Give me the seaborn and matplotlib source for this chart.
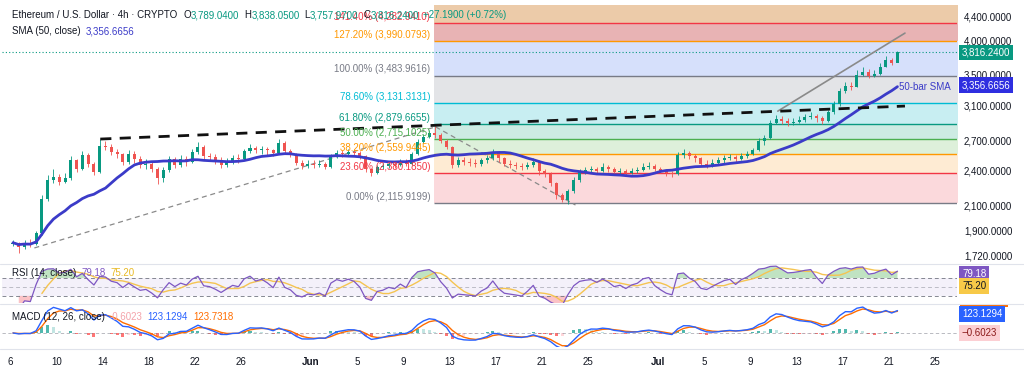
import numpy as np
import pandas as pd
import seaborn as sns
import matplotlib.pyplot as plt

# ETH/USD, resampled to 12h bars (day 0 = May 6)
closes = [1812, 1785, 1810, 1800, 1880, 2150, 2320, 2340, 2300, 2330,
          2500, 2420, 2550, 2470, 2390, 2650, 2640, 2580, 2560, 2490,
          2560, 2510, 2460, 2470, 2420, 2330, 2410, 2510, 2460, 2510,
          2490, 2580, 2640, 2540, 2530, 2500, 2460, 2490, 2520, 2510,
          2590, 2630, 2600, 2620, 2600, 2570, 2680, 2590, 2560, 2480,
          2450, 2470, 2460, 2470, 2440, 2530, 2570, 2560, 2580, 2570,
          2540, 2420, 2380, 2440, 2450, 2470, 2460, 2490, 2470, 2560,
          2690, 2740, 2780, 2760, 2700, 2640, 2460, 2500, 2490, 2480,
          2470, 2500, 2520, 2580, 2520, 2470, 2460, 2450, 2440, 2460,
          2490, 2400, 2370, 2290, 2180, 2140, 2220, 2320, 2390, 2410,
          2420, 2400, 2440, 2420, 2390, 2400, 2380, 2400, 2410, 2440,
          2450, 2420, 2400, 2380, 2370, 2550, 2570, 2540, 2520, 2470,
          2460, 2480, 2500, 2520, 2530, 2510, 2540, 2560, 2600, 2700,
          2730, 2890, 2940, 2920, 2900, 2910, 2930, 2960, 2980, 2950,
          2920, 3020, 3120, 3280, 3350, 3340, 3500, 3540, 3480, 3510,
          3610, 3710, 3660, 3816.24]
highs = [1830, 1815, 1828, 1835, 1900, 2180, 2360, 2420, 2370, 2380,
         2540, 2510, 2590, 2570, 2490, 2720, 2700, 2670, 2620, 2570,
         2600, 2590, 2540, 2510, 2490, 2440, 2440, 2540, 2530, 2550,
         2540, 2620, 2690, 2660, 2570, 2560, 2530, 2520, 2550, 2560,
         2620, 2670, 2650, 2650, 2640, 2620, 2720, 2700, 2610, 2570,
         2500, 2500, 2500, 2500, 2490, 2560, 2600, 2600, 2610, 2610,
         2590, 2550, 2430, 2460, 2480, 2490, 2490, 2510, 2510, 2580,
         2720, 2770, 2820, 2860, 2780, 2720, 2650, 2530, 2530, 2520,
         2510, 2520, 2550, 2620, 2590, 2530, 2500, 2490, 2480, 2490,
         2520, 2500, 2420, 2390, 2300, 2200, 2240, 2340, 2420, 2440,
         2450, 2440, 2480, 2460, 2440, 2430, 2420, 2430, 2440, 2480,
         2490, 2470, 2440, 2420, 2400, 2580, 2610, 2590, 2560, 2530,
         2500, 2510, 2530, 2550, 2560, 2550, 2570, 2590, 2630, 2730,
         2760, 2930, 2990, 2980, 2950, 2950, 2970, 3000, 3020, 3000,
         2970, 3050, 3150, 3320, 3400, 3400, 3560, 3610, 3580, 3560,
         3660, 3760, 3740, 3838]
lows = [1790, 1742, 1770, 1785, 1795, 1870, 2130, 2290, 2270, 2290,
        2320, 2390, 2410, 2440, 2360, 2380, 2600, 2550, 2520, 2460,
        2470, 2480, 2430, 2420, 2390, 2280, 2300, 2390, 2430, 2440,
        2450, 2480, 2560, 2510, 2500, 2470, 2430, 2440, 2470, 2480,
        2500, 2570, 2570, 2560, 2550, 2540, 2560, 2560, 2530, 2460,
        2420, 2430, 2430, 2440, 2420, 2430, 2520, 2530, 2540, 2540,
        2510, 2390, 2350, 2370, 2420, 2430, 2430, 2450, 2450, 2460,
        2550, 2680, 2730, 2730, 2680, 2610, 2430, 2440, 2460, 2450,
        2440, 2450, 2480, 2500, 2490, 2450, 2430, 2420, 2410, 2420,
        2440, 2360, 2340, 2260, 2150, 2125, 2112, 2200, 2300, 2370,
        2380, 2370, 2390, 2390, 2360, 2370, 2360, 2370, 2380, 2400,
        2420, 2400, 2380, 2350, 2340, 2360, 2520, 2510, 2490, 2450,
        2430, 2440, 2460, 2480, 2500, 2490, 2500, 2520, 2550, 2590,
        2660, 2720, 2880, 2880, 2860, 2870, 2890, 2910, 2940, 2910,
        2880, 2910, 3000, 3100, 3260, 3300, 3330, 3480, 3460, 3470,
        3500, 3600, 3640, 3680]
first_open = 1805

price_ticks = [1720, 1900, 2100, 2400, 2700, 3100, 3500, 4000, 4400]
day_ticks = [0, 4, 8, 12, 16, 20, 26, 30, 34, 38, 42, 46, 50, 56, 60, 64, 68, 72, 76, 80]
day_labels = ["6", "10", "14", "18", "22", "26", "Jun", "5", "9", "13", "17", "21", "25",
              "Jul", "5", "9", "13", "17", "21", "25"]

fib_names = ["0.00%", "23.60%", "38.20%", "50.00%", "61.80%", "78.60%", "100.00%",
             "127.20%", "141.40%", "161.80%"]
fib_prices = [2115.9199, 2380.1850, 2559.9445, 2715.1025, 2879.6655, 3131.3131,
              3483.9616, 3990.0793, 4282.9410, 4741.5202]
fib_colors = ["#787B86", "#F23645", "#FF9800", "#4CAF50", "#089981", "#00BCD4",
              "#787B86", "#FF9800", "#F23645", "#2962FF"]
band_colors = ["#FBD9DC", "#FEEBD3", "#DDF0DA", "#CDEBE3", "#C8EEF2", "#E3E4E7",
               "#D6E0FB", "#E8B3B4", "#ECCBA9"]
fib_start = 36.7

# drawings (day, price)
res_days, res_prices = [7.8, 77.4], [2719, 3094]
sup_days, sup_prices = [2.1, 36.8], [1775, 2852]
drop_days, drop_prices = [36.8, 48.9], [2852, 2100]
chan_days, chan_prices = [66.4, 77.4], [3033, 4117]

last_price = 3816.24
sma_value = 3356.6656
rsi_vals = [79.18, 75.20]
macd_vals = [-0.6023, 123.1294, 123.7318]

GREEN, RED = "#089981", "#EF5350"
SMA_C = "#3b3bc8"
TXT = "#131722"

sns.set_style("white")
plt.rcParams["font.family"] = ["Liberation Sans", "DejaVu Sans"]

W, H = 1024, 374
fig = plt.figure(figsize=(W / 100, H / 100), dpi=100)


def px_axes(x0, y0, x1, y1, **kw):
    return fig.add_axes([x0 / W, 1 - y1 / H, (x1 - x0) / W, (y1 - y0) / H], **kw)


ax = px_axes(2, 5, 957, 262)
ax_rsi = px_axes(2, 265, 957, 303, sharex=ax)
ax_macd = px_axes(2, 305, 957, 347, sharex=ax)

df = pd.DataFrame({"close": closes, "high": highs, "low": lows})
df["open"] = [first_open] + closes[:-1]
df["day"] = np.arange(len(df)) * 0.5 + 0.25
df["sma"] = df["close"].rolling(17, min_periods=1).mean()

# --- price panel
ax.set_yscale("log")
for i in range(len(band_colors)):
    ax.fill_between([fib_start, 90], fib_prices[i], fib_prices[i + 1], color=band_colors[i], lw=0, zorder=0)
for name, p, c in zip(fib_names, fib_prices, fib_colors):
    ax.hlines(p, fib_start, 90, colors=c, lw=1, zorder=1)
    if p < 4500:
        ax.annotate(f"{name} ({p:,.4f})", xy=(fib_start, p), xytext=(-3, 1), textcoords="offset points",
                    ha="right", va="bottom", color=c, fontsize=7, zorder=6)

ax.axhline(last_price, color=GREEN, ls=(0, (1, 2)), lw=0.8, zorder=2)

up = df["close"] >= df["open"]
cols = np.where(up, GREEN, RED)
ax.vlines(df["day"], df["low"], df["high"], colors=cols, lw=0.6, zorder=3)
body_lo = df[["open", "close"]].min(axis=1)
body_h = (df["close"] - df["open"]).abs()
ax.bar(df["day"], body_h, bottom=body_lo, width=0.26, color=cols, lw=0, zorder=3)

sns.lineplot(x=df["day"], y=df["sma"], ax=ax, color=SMA_C, lw=2, zorder=4)
ax.plot(sup_days, sup_prices, color="#8a8a8a", lw=0.9, ls=(0, (4, 3)), zorder=2)
ax.plot(drop_days, drop_prices, color="#8a8a8a", lw=0.9, ls=(0, (4, 3)), zorder=2)
ax.plot(chan_days, chan_prices, color="#8a8a8a", lw=1.2, zorder=2)
ax.plot(res_days, res_prices, color="#111111", lw=2, ls=(0, (4, 3)), zorder=5)
ax.text(df["day"].iloc[-1] + 0.1, df["sma"].iloc[-1], "50-bar SMA", color=SMA_C,
        fontsize=7, va="center", ha="left", zorder=6)

ax.set_ylim(1680, 4596)
ax.set_xlim(-0.7, 81.9)
ax.set_yticks(price_ticks)
ax.set_yticklabels([f"{v:,.4f}" for v in price_ticks])
ax.yaxis.set_minor_locator(plt.NullLocator())
ax.yaxis.tick_right()
ax.tick_params(axis="y", length=0, pad=5, labelsize=7, labelcolor=TXT)
ax.set_xlabel("")
ax.set_ylabel("")

yx = ax.get_yaxis_transform()
ax.text(1.005, last_price, "3,816.2400", transform=yx, color="white", fontsize=7, va="center",
        bbox=dict(boxstyle="square,pad=0.3", fc=GREEN, ec="none"))
ax.text(1.005, sma_value, "3,356.6656", transform=yx, color="white", fontsize=7, va="center",
        bbox=dict(boxstyle="square,pad=0.3", fc="#2f2fe0", ec="none"))

# --- RSI panel
delta = df["close"].diff()
gain = delta.clip(lower=0).ewm(alpha=1 / 5, adjust=False).mean()
loss = (-delta.clip(upper=0)).ewm(alpha=1 / 5, adjust=False).mean()
df["rsi"] = 100 - 100 / (1 + gain / loss)
df["rsi_ma"] = df["rsi"].rolling(5).mean()

ax_rsi.axhspan(30, 70, color="#7E57C2", alpha=0.08, lw=0)
for lvl, a in [(70, 0.9), (50, 0.45), (30, 0.9)]:
    ax_rsi.axhline(lvl, color="#787B86", ls=(0, (4, 3)), lw=0.7, alpha=a)
ax_rsi.fill_between(df["day"], 70, df["rsi"], where=df["rsi"] > 70, interpolate=True,
                    color="#4CAF50", alpha=0.35, lw=0)
ax_rsi.fill_between(df["day"], 30, df["rsi"], where=df["rsi"] < 30, interpolate=True,
                    color="#F23645", alpha=0.3, lw=0)
sns.lineplot(x=df["day"], y=df["rsi_ma"], ax=ax_rsi, color="#F5C451", lw=1)
sns.lineplot(x=df["day"], y=df["rsi"], ax=ax_rsi, color="#7E57C2", lw=0.9)
ax_rsi.set_ylim(14, 99)

# --- MACD panel
ema_fast = df["close"].ewm(span=4, adjust=False).mean()
ema_slow = df["close"].ewm(span=9, adjust=False).mean()
df["macd"] = ema_fast - ema_slow
df["signal"] = df["macd"].ewm(span=3, adjust=False).mean()
df["hist"] = df["macd"] - df["signal"]
prev = df["hist"].shift(1)
hist_cols = np.select([(df["hist"] >= 0) & (df["hist"] >= prev), df["hist"] >= 0, df["hist"] < prev],
                      ["#26A69A", "#B2DFDB", "#FF5252"], "#FFCDD2")
ax_macd.axhline(0, color="#787B86", ls=(0, (4, 3)), lw=0.6, alpha=0.6)
ax_macd.bar(df["day"], df["hist"], width=0.26, color=hist_cols, lw=0, alpha=0.8)
sns.lineplot(x=df["day"], y=df["signal"], ax=ax_macd, color="#FF6D00", lw=1)
sns.lineplot(x=df["day"], y=df["macd"], ax=ax_macd, color="#2962FF", lw=1)
top = max(df["macd"].max(), df["signal"].max()) * 1.08
ax_macd.set_ylim(-0.5 * top, top)

for a in (ax, ax_rsi, ax_macd):
    sns.despine(ax=a, left=True, right=True, top=True, bottom=True)
    a.set_xlabel("")
    a.set_ylabel("")
for a in (ax_rsi, ax_macd):
    a.set_yticks([])
ax.tick_params(axis="x", labelbottom=False, length=0)
ax_rsi.tick_params(axis="x", labelbottom=False, length=0)
ax_macd.set_xticks(day_ticks)
ax_macd.set_xticklabels(day_labels)
ax_macd.tick_params(axis="x", length=0, pad=7, labelsize=7, labelcolor=TXT)
for t in ax_macd.get_xticklabels():
    if t.get_text() in ("Jun", "Jul"):
        t.set_fontweight("bold")

# panel separators
for y in (264, 304, 349):
    fig.add_artist(plt.Line2D([0, 1], [1 - y / H] * 2, transform=fig.transFigure, color="#E0E3EB", lw=0.8))

# --- legend texts
rend = fig.canvas.get_renderer()


def chain(x, y, parts, size=7):
    for s, c, gap in parts:
        t = fig.text(x / W, 1 - y / H, s, color=c, fontsize=size, va="center", ha="left")
        x += t.get_window_extent(rend).width + gap


VAL = "#089981"
chain(12, 15, [("Ethereum / U.S. Dollar · 4h · CRYPTO", TXT, 6), ("O", TXT, 0), ("3,789.0400", VAL, 5),
               ("H", TXT, 0), ("3,838.0500", VAL, 5), ("L", TXT, 0), ("3,757.9700", VAL, 5),
               ("C", TXT, 0), ("3,816.2400", VAL, 4), ("+27.1900 (+0.72%)", VAL, 0)])
chain(12, 31, [("SMA (50, close)", TXT, 5), ("3,356.6656", SMA_C, 0)])
chain(12, 273, [("RSI (14, close)", TXT, 5), (f"{rsi_vals[0]:.2f}", "#7E57C2", 5),
                (f"{rsi_vals[1]:.2f}", "#E8B923", 0)])
chain(12, 317, [("MACD (12, 26, close)", TXT, 5), (f"{macd_vals[0]:.4f}", "#F4A3AA", 5),
                (f"{macd_vals[1]:.4f}", "#2962FF", 5), (f"{macd_vals[2]:.4f}", "#FF6D00", 0)])

# right-hand value boxes for the indicators
boxes = [(274, "79.18", "white", "#7E57C2"), (286, "75.20", TXT, "#F7C948"),
         (314, "123.1294", "white", "#2962FF"), (333, "\u22120.6023", "#8B1A1A", "#FCCFD3")]
fig.add_artist(plt.Rectangle((960 / W, 1 - 307 / H), 48 / W, 3 / H, transform=fig.transFigure,
                             color="#FF6D00", lw=0))
for y, s, tc, fc in boxes:
    fig.text(962 / W, 1 - y / H, s, color=tc, fontsize=7, va="center", ha="left",
             bbox=dict(boxstyle="square,pad=0.3", fc=fc, ec="none"))

fig.savefig("out.png", dpi=100, facecolor="white")
